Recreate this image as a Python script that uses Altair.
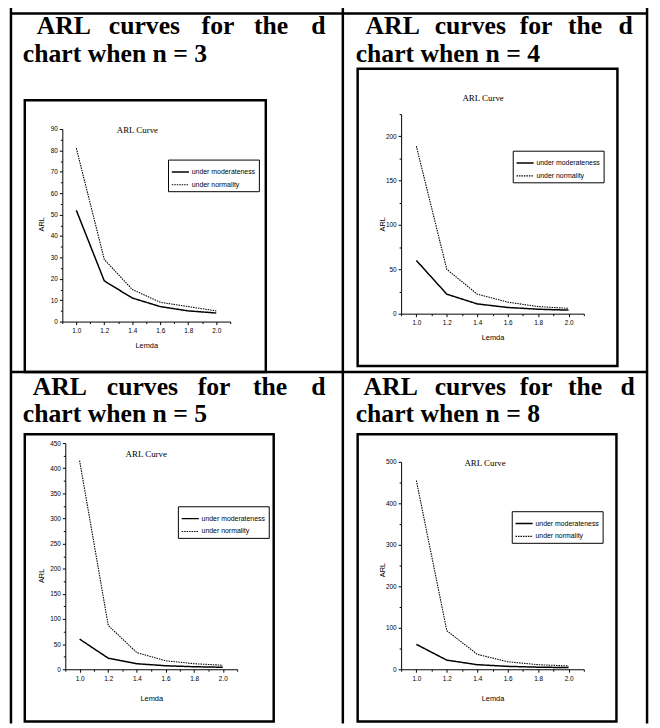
import altair as alt
import pandas as pd

# ---------------- data ----------------
lemda = [1.0, 1.2, 1.4, 1.6, 1.8, 2.0]
series_names = ["under moderateness", "under normality"]

mod_n3 = [52, 19, 11, 7, 5, 4]
norm_n3 = [81, 29, 15, 9, 7, 5]
mod_n4 = [60, 22, 11, 7, 5, 4]
norm_n4 = [189, 50, 22, 13, 8, 6]
mod_n5 = [60, 22, 11, 7, 5, 4]
norm_n5 = [415, 87, 33, 17, 11, 8]
mod_n8 = [60, 22, 11, 7, 5, 4]
norm_n8 = [455, 93, 36, 18, 11, 8]

x_ticks = [0.9, 1.0, 1.1, 1.2, 1.3, 1.4, 1.5, 1.6, 1.7, 1.8, 1.9, 2.0, 2.1]

# ---------------- layout (page pixels) ----------------
O = 8  # page margin
W, H = 652, 720
SANS = "Liberation Sans Narrow, Arial Narrow, Liberation Sans, Arial"
SERIF = "Liberation Serif, Times New Roman"


def long_df(mod, norm):
    rows = []
    for lam, v in zip(lemda, mod):
        rows.append({"Lemda": lam, "ARL": v, "Series": series_names[0]})
    for lam, v in zip(lemda, norm):
        rows.append({"Lemda": lam, "ARL": v, "Series": series_names[1]})
    return pd.DataFrame(rows)


def panel(mod, norm, ymax, ymajor, yminor, xr, yr, leg, arl_pos, lemda_y):
    df = long_df(mod, norm)
    yvals = list(range(0, ymax + 1, yminor))
    x_axis = alt.Axis(
        orient="bottom", offset=(yr[0] - O) - H, values=x_ticks, format=".1f",
        grid=False, domainColor="black", domainWidth=1, tickColor="black", tickWidth=1,
        tickSize={"condition": {"test": "abs(round(datum.value*10)) % 2 === 0", "value": 3}, "value": 2},
        labelExpr="abs(round(datum.value*10)) % 2 === 0 ? datum.label : ''",
        labelFont=SANS, labelFontSize=6.5, labelColor="black", labelPadding=3,
        labelFlush=False, labelOverlap=False,
        title="Lemda", titleFont=SANS, titleFontSize=7.5, titleFontWeight="normal",
        titleColor="black", titleY=lemda_y - yr[0], titleBaseline="middle",
    )
    y_axis = alt.Axis(
        orient="left", offset=-(xr[0] - O), values=yvals,
        grid=False, domainColor="black", domainWidth=1, tickColor="black", tickWidth=1,
        tickSize={"condition": {"test": f"datum.value % {ymajor} === 0", "value": 3}, "value": 2},
        labelExpr=f"datum.value % {ymajor} === 0 ? datum.label : ''",
        labelFont=SANS, labelFontSize=6.5, labelColor="black", labelPadding=2,
        labelOverlap=False, labelFlush=False,
        title="ARL", titleFont=SANS, titleFontSize=7.5, titleFontWeight="normal",
        titleColor="black", titleAngle=-90, titleX=arl_pos[0] - xr[0],
        titleY=arl_pos[1] - O, titleBaseline="middle", titleAlign="center",
    )
    legend = alt.Legend(
        orient="none", legendX=leg[0] - O, legendY=leg[1] - O, title=None,
        strokeColor="black", fillColor="white", padding=3, cornerRadius=0,
        symbolType="stroke", symbolSize=300, symbolStrokeColor="black",
        symbolStrokeWidth=1.3, labelFont=SANS, labelFontSize=7, labelColor="black",
        labelOffset=2, rowPadding=-6.5,
    )
    return alt.Chart(df).mark_line(color="black").encode(
        x=alt.X("Lemda:Q", scale=alt.Scale(domain=[0.9, 2.1], range=[xr[0] - O, xr[1] - O],
                                           nice=False, zero=False), axis=x_axis),
        y=alt.Y("ARL:Q", scale=alt.Scale(domain=[0, ymax], range=[yr[0] - O, yr[1] - O],
                                         nice=False), axis=y_axis),
        strokeDash=alt.StrokeDash("Series:N", scale=alt.Scale(domain=series_names,
                                  range=[[1, 0], [1.5, 1]]), legend=legend),
        strokeWidth=alt.StrokeWidth("Series:N", scale=alt.Scale(domain=series_names,
                                    range=[1.5, 1.1]), legend=None),
    )


pA = panel(mod_n3, norm_n3, 90, 10, 5, (63, 233), (321, 126), (170, 157), (42, 222), 345)
pB = panel(mod_n4, norm_n4, 225, 50, 25, (406, 591), (313, 111), (519, 148), (387, 222), 337)
pC = panel(mod_n5, norm_n5, 450, 50, 25, (66, 240), (673, 444), (180, 508), (42, 578), 703)
pD = panel(mod_n8, norm_n8, 500, 100, 50, (406, 591), (673, 463), (518, 513), (387, 572), 703)

# ---------------- table lines and frames ----------------
table_lines = pd.DataFrame([
    {"x": 11, "y": 9, "x2": 655, "y2": 9},
    {"x": 11, "y": 3, "x2": 11, "y2": 728},
    {"x": 655, "y": 3, "x2": 655, "y2": 728},
    {"x": 347, "y": 3, "x2": 347, "y2": 728},
    {"x": 11, "y": 372, "x2": 655, "y2": 372},
])
for c in ["x", "y", "x2", "y2"]:
    table_lines[c] = table_lines[c] - O

rules = alt.Chart(table_lines).mark_rule(color="black", strokeWidth=2.5).encode(
    x=alt.X("x:Q", scale=None, axis=None), y=alt.Y("y:Q", scale=None, axis=None),
    x2="x2:Q", y2="y2:Q",
)

frames_df = pd.DataFrame([
    {"x": 25, "y": 97, "x2": 269, "y2": 372},
    {"x": 362, "y": 65, "x2": 625, "y2": 366},
    {"x": 25, "y": 435, "x2": 277, "y2": 726},
    {"x": 362, "y": 435, "x2": 624, "y2": 726},
])
for c in ["x", "y", "x2", "y2"]:
    frames_df[c] = frames_df[c] - O

frames = alt.Chart(frames_df).mark_rect(filled=False, stroke="black", strokeWidth=2.5).encode(
    x=alt.X("x:Q", scale=None, axis=None), y=alt.Y("y:Q", scale=None, axis=None),
    x2="x2:Q", y2="y2:Q",
)

# ---------------- heading texts ----------------
head_rows = []
def words(ws, xs, y):
    for w, xx in zip(ws, xs):
        head_rows.append({"t": w, "x": xx - O, "y": y - O})

line1 = ["ARL", "curves", "for", "the", "d"]
words(line1, [37, 110, 204, 257, 315], 30)
words(["chart when n = 3"], [23], 58)
words(line1, [370, 440, 526, 575, 626], 30)
words(["chart when n = 4"], [360], 58)
words(line1, [33, 108, 200, 256, 315], 395)
words(["chart when n = 5"], [23], 423)
words(line1, [368, 440, 526, 575, 628], 395)
words(["chart when n = 8"], [360], 423)
heads = alt.Chart(pd.DataFrame(head_rows)).mark_text(
    font=SERIF, fontSize=26, fontWeight="bold", align="left", baseline="alphabetic", color="black"
).encode(x=alt.X("x:Q", scale=None, axis=None), y=alt.Y("y:Q", scale=None, axis=None), text="t:N")

ptitles_df = pd.DataFrame([
    {"t": "ARL Curve", "x": 139 - O, "y": 127 - O},
    {"t": "ARL Curve", "x": 489 - O, "y": 95 - O},
    {"t": "ARL Curve", "x": 148 - O, "y": 455 - O},
    {"t": "ARL Curve", "x": 491 - O, "y": 464 - O},
])
ptitles = alt.Chart(ptitles_df).mark_text(
    font=SERIF, fontSize=9, align="center", baseline="middle", color="black"
).encode(x=alt.X("x:Q", scale=None, axis=None), y=alt.Y("y:Q", scale=None, axis=None), text="t:N")

chart = alt.layer(rules, frames, heads, ptitles, pA, pB, pC, pD).resolve_scale(
    x="independent", y="independent", strokeDash="independent", strokeWidth="independent"
).resolve_axis(x="independent", y="independent").resolve_legend(
    strokeDash="independent"
).properties(
    width=W, height=H, autosize=alt.AutoSizeParams(type="none"), padding=0
).configure_view(stroke=None)

chart.save("out.html", embed_options={"renderer": "svg", "actions": False})
